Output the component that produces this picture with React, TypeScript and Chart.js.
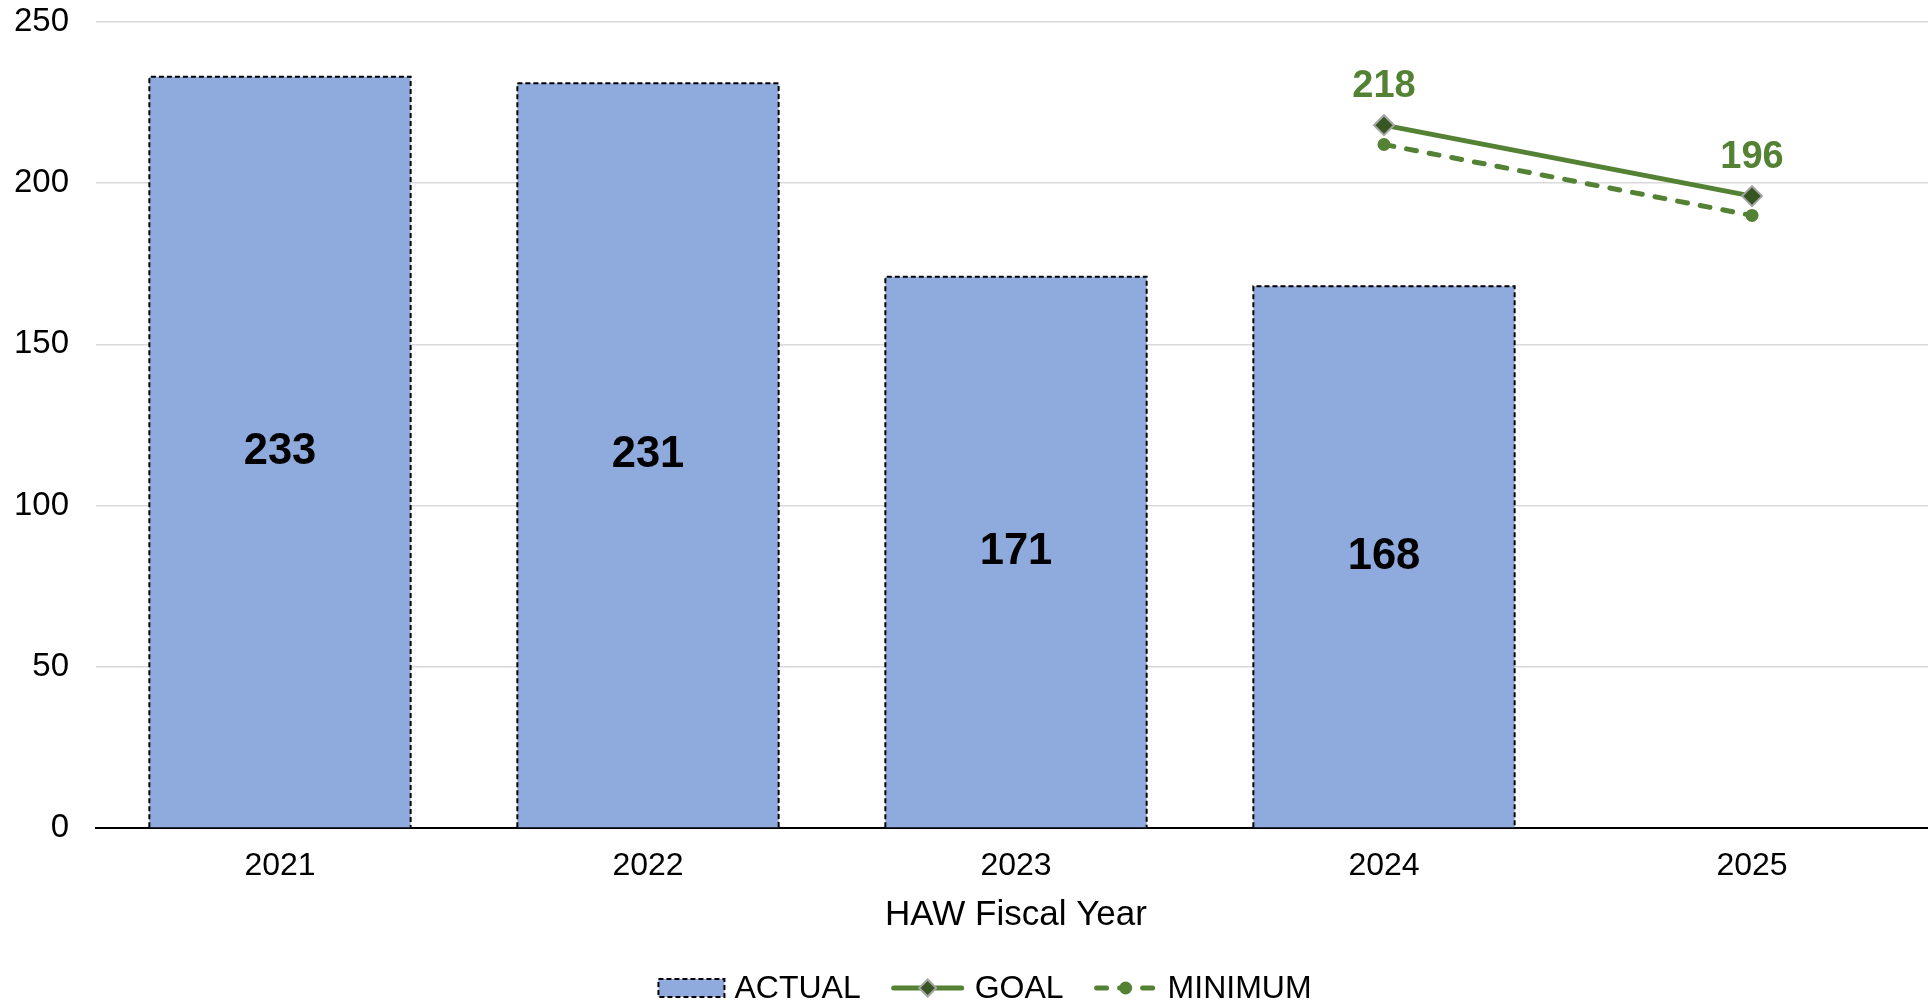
import React, { useEffect, useRef } from 'react';
import { Chart, registerables } from 'chart.js';

Chart.register(...registerables);

const categories = ['2021', '2022', '2023', '2024', '2025'];
const actualValues: (number | null)[] = [233, 231, 171, 168, null];
const goalValues: (number | null)[] = [null, null, null, 218, 196];
const minimumValues: (number | null)[] = [null, null, null, 212, 190];
const seriesNames = ['ACTUAL', 'GOAL', 'MINIMUM'];
const axisTitle = 'HAW Fiscal Year';
const yMin = 0;
const yMax = 250;
const yStep = 50;

const FONT = '"Liberation Sans", Arial, Helvetica, sans-serif';
const BAR_FILL = '#8FAADC';
const GREEN = '#548235';
const DARK_GREEN = '#375623';
const DIAMOND_EDGE = '#A6A6A6';

function drawDiamond(ctx: CanvasRenderingContext2D, x: number, y: number, r: number) {
  ctx.beginPath();
  ctx.moveTo(x, y - r);
  ctx.lineTo(x + r, y);
  ctx.lineTo(x, y + r);
  ctx.lineTo(x - r, y);
  ctx.closePath();
  ctx.fillStyle = DARK_GREEN;
  ctx.fill();
  ctx.lineWidth = 2;
  ctx.strokeStyle = DIAMOND_EDGE;
  ctx.setLineDash([]);
  ctx.stroke();
}

const customPlugin = {
  id: 'customDraw',
  afterDatasetsDraw(chart: any) {
    const ctx: CanvasRenderingContext2D = chart.ctx;
    ctx.save();
    // dashed bar outlines + bar labels
    const barMeta = chart.getDatasetMeta(0);
    barMeta.data.forEach((el: any, i: number) => {
      const v = actualValues[i];
      if (v == null) return;
      const p = el.getProps(['x', 'y', 'base', 'width'], true);
      const l = p.x - p.width / 2;
      const r = p.x + p.width / 2;
      ctx.setLineDash([5, 3]);
      ctx.lineWidth = 2;
      ctx.strokeStyle = '#000';
      ctx.beginPath();
      ctx.moveTo(l, p.base);
      ctx.lineTo(l, p.y);
      ctx.lineTo(r, p.y);
      ctx.lineTo(r, p.base);
      ctx.stroke();
      ctx.setLineDash([]);
      ctx.font = `bold 43.5px ${FONT}`;
      ctx.fillStyle = '#000';
      ctx.textAlign = 'center';
      ctx.textBaseline = 'middle';
      ctx.fillText(String(v), p.x, (p.y + p.base) / 2);
    });
    // goal labels
    const goalMeta = chart.getDatasetMeta(1);
    goalMeta.data.forEach((el: any, i: number) => {
      const v = goalValues[i];
      if (v == null) return;
      ctx.font = `bold 38px ${FONT}`;
      ctx.fillStyle = GREEN;
      ctx.textAlign = 'center';
      ctx.textBaseline = 'middle';
      ctx.fillText(String(v), el.x, el.y - 39);
    });
    ctx.restore();
  },
  afterDraw(chart: any) {
    const ctx: CanvasRenderingContext2D = chart.ctx;
    ctx.save();
    ctx.font = `32px ${FONT}`;
    ctx.textBaseline = 'middle';
    ctx.textAlign = 'left';
    const cy = 988;
    const symW = [66, 74, 64];
    const symGap = 10;
    const itemGap = 30;
    const widths = seriesNames.map((n, i) => symW[i] + symGap + ctx.measureText(n).width);
    const total = widths.reduce((a, b) => a + b, 0) + itemGap * (seriesNames.length - 1);
    let x = 985 - total / 2;
    seriesNames.forEach((name, i) => {
      const w = symW[i];
      if (i === 0) {
        ctx.fillStyle = BAR_FILL;
        ctx.fillRect(x, cy - 9, w, 18);
        ctx.setLineDash([5, 3]);
        ctx.lineWidth = 2;
        ctx.strokeStyle = '#000';
        ctx.strokeRect(x, cy - 9, w, 18);
      } else if (i === 1) {
        ctx.setLineDash([]);
        ctx.strokeStyle = GREEN;
        ctx.lineWidth = 5;
        ctx.lineCap = 'round';
        ctx.beginPath();
        ctx.moveTo(x + 3, cy);
        ctx.lineTo(x + w - 3, cy);
        ctx.stroke();
        drawDiamond(ctx, x + w / 2, cy, 8.5);
      } else {
        ctx.setLineDash([10, 13]);
        ctx.strokeStyle = GREEN;
        ctx.lineWidth = 5;
        ctx.lineCap = 'round';
        ctx.beginPath();
        ctx.moveTo(x + 3, cy);
        ctx.lineTo(x + w - 3, cy);
        ctx.stroke();
        ctx.setLineDash([]);
        ctx.beginPath();
        ctx.arc(x + w / 2, cy, 6.5, 0, Math.PI * 2);
        ctx.fillStyle = GREEN;
        ctx.fill();
      }
      ctx.setLineDash([]);
      ctx.fillStyle = '#000';
      ctx.fillText(name, x + w + symGap, cy + 1);
      x += widths[i] + itemGap;
    });
    ctx.restore();
  },
};

export default function App() {
  const canvasRef = useRef<HTMLCanvasElement | null>(null);

  useEffect(() => {
    const canvas = canvasRef.current;
    if (!canvas) return;
    const chart = new Chart(canvas, {
      type: 'bar',
      data: {
        labels: categories,
        datasets: [
          {
            type: 'bar',
            label: seriesNames[0],
            data: actualValues,
            backgroundColor: BAR_FILL,
            borderWidth: 0,
            barPercentage: 0.71,
            categoryPercentage: 1,
            order: 3,
          },
          {
            type: 'line',
            label: seriesNames[1],
            data: goalValues,
            borderColor: GREEN,
            borderWidth: 5,
            pointStyle: 'rectRot',
            pointRadius: 10,
            pointBackgroundColor: DARK_GREEN,
            pointBorderColor: DIAMOND_EDGE,
            pointBorderWidth: 2,
            fill: false,
            order: 1,
          },
          {
            type: 'line',
            label: seriesNames[2],
            data: minimumValues,
            borderColor: GREEN,
            borderWidth: 5,
            borderDash: [10, 13],
            borderCapStyle: 'round',
            pointStyle: 'circle',
            pointRadius: 6.5,
            pointBackgroundColor: GREEN,
            pointBorderColor: GREEN,
            pointBorderWidth: 0,
            fill: false,
            order: 2,
          },
        ],
      } as any,
      options: {
        animation: false,
        responsive: false,
        maintainAspectRatio: false,
        layout: { autoPadding: false, padding: { top: 0, left: 0, right: 0, bottom: 60 } },
        plugins: {
          legend: { display: false },
          tooltip: { enabled: false },
        },
        scales: {
          x: {
            z: 1,
            grid: { display: false, drawTicks: false },
            border: { display: true, color: '#000', width: 2 },
            ticks: { color: '#000', font: { family: FONT, size: 32 }, padding: 19 },
            title: {
              display: true,
              text: axisTitle,
              color: '#000',
              font: { family: FONT, size: 35 },
              padding: { top: 0, bottom: 7.5 },
            },
            afterFit: (s: any) => {
              s.height = 116;
            },
          },
          y: {
            min: yMin,
            max: yMax,
            ticks: { stepSize: yStep, color: '#000', font: { family: FONT, size: 33 }, padding: 27 },
            grid: { color: '#D9D9D9', lineWidth: 1.5, drawTicks: false },
            border: { display: false },
            afterFit: (s: any) => {
              s.width = 96;
              s.paddingTop = 22;
              s.paddingBottom = 0;
            },
          },
        },
      } as any,
      plugins: [customPlugin],
    });
    return () => chart.destroy();
  }, []);

  return (
    <div style={{ position: 'fixed', left: 0, top: 0, width: 1928, height: 1004, overflow: 'hidden', background: '#fff' }}>
      <canvas ref={canvasRef} width={1936} height={1004} style={{ width: 1936, height: 1004, display: 'block' }} />
    </div>
  );
}
